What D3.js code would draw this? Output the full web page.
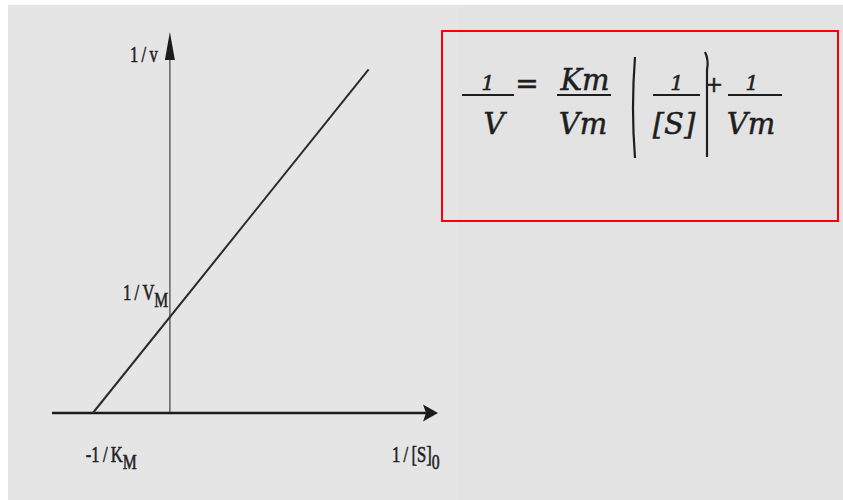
<!DOCTYPE html>
<html>
<head>
<meta charset="utf-8">
<script src="https://cdn.jsdelivr.net/npm/d3@7"></script>
<style>
  html, body { margin: 0; padding: 0; background: #ffffff; }
  svg { display: block; }
</style>
</head>
<body>
<svg id="chart" width="843" height="500"></svg>
<script>
// Lineweaver–Burk plot: 1/v against 1/[S]0 (Km = 1, Vm = 1 in plot units)
const invS = [-1, 2.58];          // 1/[S]0 at the two ends of the line
const invV = [0, 3.58];           // 1/v at those ends
const xDomain = [-1.53, 3.48];    // extent of the horizontal axis
const yDomain = [0, 3.97];        // extent of the vertical axis
const xAxisLabel = "1\u2009/\u2009[S]";
const yAxisLabel = "1\u2009/\u2009v";
const interceptX = { main: "-1\u2009/\u2009K", sub: "M", at: -1 };
const interceptY = { main: "1\u2009/\u2009V", sub: "M", at: 1 };

const svg = d3.select("#chart");
const W = 843, H = 500;

// page background
svg.append("rect").attr("width", W).attr("height", H).attr("fill", "#ffffff");
svg.append("rect").attr("x", 8).attr("y", 5).attr("width", W - 8).attr("height", H - 5).attr("fill", "#e3e3e3");
svg.append("rect").attr("x", 8).attr("y", 5).attr("width", 450).attr("height", H - 5).attr("fill", "#e5e5e5");

const x = d3.scaleLinear().domain(xDomain).range([52, 438]);
const y = d3.scaleLinear().domain(yDomain).range([413, 32]);

const ink = "#1c1c1c";

// vertical axis (1/v)
svg.append("line")
  .attr("x1", x(0)).attr("x2", x(0))
  .attr("y1", y(0)).attr("y2", y(yDomain[1]) + 20)
  .attr("stroke", "#6a6a6a").attr("stroke-width", 1.6);
svg.append("path")
  .attr("d", d3.line()([[x(0), y(yDomain[1])], [x(0) + 5, y(yDomain[1]) + 28], [x(0) - 5, y(yDomain[1]) + 28]]) + "Z")
  .attr("fill", ink);

// horizontal axis (1/[S]0)
svg.append("line")
  .attr("x1", x(xDomain[0])).attr("x2", x(xDomain[1]) - 10)
  .attr("y1", y(0)).attr("y2", y(0))
  .attr("stroke", ink).attr("stroke-width", 2.6);
svg.append("path")
  .attr("d", d3.line()([[x(xDomain[1]), y(0)], [x(xDomain[1]) - 15, y(0) - 8.5], [x(xDomain[1]) - 12, y(0)], [x(xDomain[1]) - 15, y(0) + 8.5]]) + "Z")
  .attr("fill", ink);

// the fitted line
const pts = invS.map((s, i) => [s, invV[i]]);
svg.append("path")
  .attr("d", d3.line().x(d => x(d[0])).y(d => y(d[1]))(pts))
  .attr("fill", "none").attr("stroke", "#2a2a2a").attr("stroke-width", 2);

// condensed serif labels
function label(px, py, main, sub, size) {
  const g = svg.append("g").attr("transform", `translate(${px},${py}) scale(0.72,1)`);
  const t = g.append("text")
    .attr("font-family", "'Liberation Serif', 'Times New Roman', serif")
    .attr("font-size", size).attr("fill", "#222")
    .attr("stroke", "#222").attr("stroke-width", 0.6);
  t.append("tspan").text(main);
  if (sub) t.append("tspan").attr("dy", size * 0.32).attr("font-size", size * 0.95).text(sub);
  return g;
}
label(x(0) - 40, 62, yAxisLabel, null, 23);
label(x(0) - 47, 300, interceptY.main, interceptY.sub, 23);
label(x(interceptX.at) - 7, 462, interceptX.main, interceptX.sub, 23);
label(x(xDomain[1]) - 46, 462, xAxisLabel, "0", 23);

// equation panel
svg.append("rect")
  .attr("x", 442).attr("y", 31).attr("width", 396).attr("height", 190)
  .attr("fill", "none").attr("stroke", "#ff0000").attr("stroke-width", 2);

const eq = svg.append("g")
  .attr("font-family", "'DejaVu Serif', serif")
  .attr("font-style", "italic").attr("fill", "#1e1e1e")
  .attr("stroke", "#1e1e1e").attr("stroke-width", 0.5)
  .attr("text-anchor", "middle");

function frac(cx, x0, x1, num, den, denX, numSize) {
  eq.append("text").attr("x", cx).attr("y", 90).attr("font-size", numSize).text(num);
  eq.append("line").attr("x1", x0).attr("x2", x1).attr("y1", 95).attr("y2", 95)
    .attr("stroke-width", 2);
  eq.append("text").attr("x", denX).attr("y", 134).attr("font-size", 29).text(den);
}
frac(488, 462, 514, "1", "V", 494, 21);
eq.append("text").attr("x", 527).attr("y", 93).attr("font-size", 28).attr("font-style", "normal").text("=");
frac(585, 557, 611, "Km", "Vm", 583, 29);
frac(677, 653, 700, "1", "[S]", 674, 21);
eq.append("text").attr("x", 714).attr("y", 92).attr("font-size", 22).attr("font-style", "normal").text("+");
frac(752, 728, 782, "1", "Vm", 751, 21);

// tall brackets around 1/[S]
eq.append("path").attr("d", "M635,57 Q631,108 635,158")
  .attr("fill", "none").attr("stroke-width", 2.2);
eq.append("path").attr("d", "M705,52 Q709,60 707,70 L707,157")
  .attr("fill", "none").attr("stroke-width", 2.2);
</script>
</body>
</html>
